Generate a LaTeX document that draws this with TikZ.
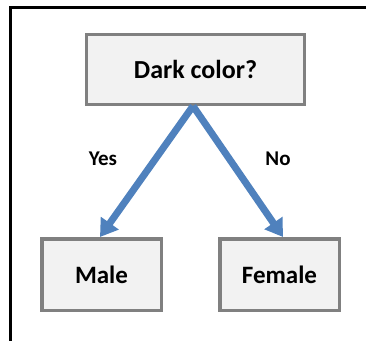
\documentclass[tikz,border=0pt]{standalone}
\usepackage{fontspec}
\setmainfont{Carlito}
\usetikzlibrary{arrows.meta}
\definecolor{boxfill}{HTML}{F2F2F2}
\definecolor{boxline}{HTML}{808080}
\definecolor{arrowblue}{HTML}{4F81BD}
\begin{document}
\begin{tikzpicture}[x=1pt,y=-1pt,
  box/.style={draw=boxline, fill=boxfill, line width=3.5pt, inner sep=0pt, font=\bfseries\fontsize{25}{28}\selectfont},
  branch/.style={draw=arrowblue, line width=7pt, -{Triangle[length=17pt,width=21pt]}},
  lbl/.style={font=\bfseries\fontsize{21}{24}\selectfont, inner sep=0pt}]
\useasboundingbox (0,0) rectangle (366,341);
\draw[line width=3pt] (366,7.5) -- (10.5,7.5) -- (10.5,341);
\node[box, minimum width=218pt, minimum height=70pt, font=\bfseries\fontsize{26}{29}\selectfont] (top) at (195.5,69.5) {Dark color?};
\node[box, minimum width=119.5pt, minimum height=71.5pt] (male) at (101.5,274.5) {Male};
\node[box, minimum width=119.5pt, minimum height=71.5pt] (female) at (279.5,274.5) {Female};
\coordinate (split) at (193,106);
\draw[branch] (split) -- (male.north -| 100,0);
\draw[branch] (split) -- (female.north -| 283,0);
\node[lbl] (yes) at (103,159) {Yes};
\node[lbl] (no) at (278,159) {No};
\end{tikzpicture}
\end{document}
